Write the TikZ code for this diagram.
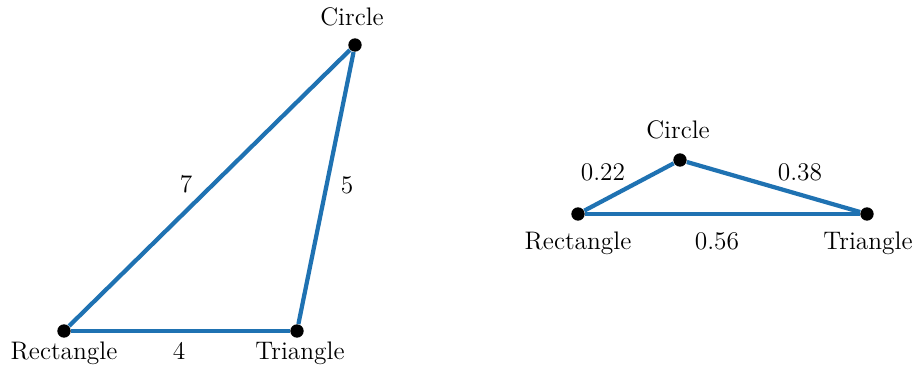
\documentclass[tikz,border=0pt]{standalone}
\definecolor{edgeblue}{RGB}{31,114,178}
\begin{document}
\begin{tikzpicture}[x=0.0158cm,y=-0.0158cm,
  vtx/.style={circle,fill=black,inner sep=0pt,minimum size=6pt},
  edge/.style={draw=edgeblue,line width=1.9pt},
  lbl/.style={inner sep=0pt,anchor=base,font=\fontsize{11.4pt}{13pt}\selectfont}]
\useasboundingbox (0,0) rectangle (917,367);
% left graph
\node[vtx] (R1) at (64,331) {};
\node[vtx] (T1) at (297,331) {};
\node[vtx] (C1) at (355,45) {};
\draw[edge] (R1) -- (T1);
\draw[edge] (T1) -- (C1);
\draw[edge] (C1) -- (R1);
\node[lbl] (lR1) at (64,360) {Rectangle};
\node[lbl] (lT1) at (300,360) {Triangle};
\node[lbl] (lC1) at (352,26) {Circle};
\node[lbl] (e7) at (186,193) {7};
\node[lbl] (e5) at (347,194) {5};
\node[lbl] (e4) at (179,360) {4};
% right graph
\node[vtx] (R2) at (578,214) {};
\node[vtx] (C2) at (680,160) {};
\node[vtx] (T2) at (867,214) {};
\draw[edge] (R2) -- (T2);
\draw[edge] (R2) -- (C2);
\draw[edge] (C2) -- (T2);
\node[lbl] (lR2) at (578,250) {Rectangle};
\node[lbl] (lT2) at (868,250) {Triangle};
\node[lbl] (lC2) at (678,139) {Circle};
\node[lbl] (e22) at (603,181) {0.22};
\node[lbl] (e38) at (800,181) {0.38};
\node[lbl] (e56) at (717,250) {0.56};
\end{tikzpicture}
\end{document}
